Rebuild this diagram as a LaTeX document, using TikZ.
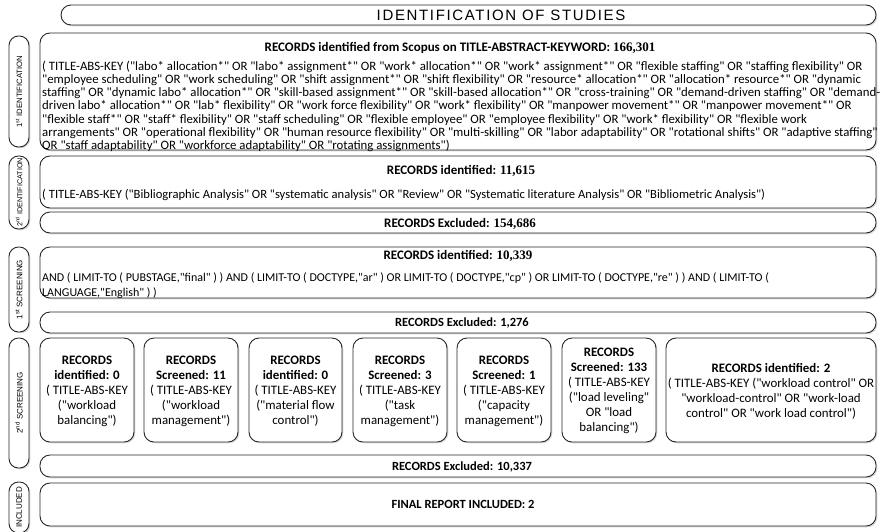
\documentclass[tikz,border=0pt]{standalone}
\usepackage{fontspec}
\setmainfont{Carlito}[Ligatures=TeXOff]
\newfontfamily\arialf{Liberation Sans}
\newfontfamily\titlef{Liberation Sans}[LetterSpace=11]
\newfontfamily\numf{Liberation Serif}
\usetikzlibrary{shadows}
\begin{document}
\begin{tikzpicture}[x=1pt,y=-1pt,
  box/.style={draw=black!85, line width=0.9pt, rounded corners=10pt, fill=white,
    inner sep=0pt, outer sep=0pt, anchor=north west,
    drop shadow={shadow xshift=1.3pt, shadow yshift=-1.3pt, opacity=0.3}},
  sidebox/.style={box, rounded corners=9.5pt, minimum width=20pt},
  sidetext/.style={rotate=90, inner sep=0pt, font=\arialf\fontsize{8}{9}\selectfont},
  hdr/.style={anchor=base, inner sep=0pt, font=\bfseries\fontsize{12.5}{14}\selectfont},
  hdrn/.style={hdr, font=\bfseries\fontsize{13}{14}\selectfont},
  body/.style={anchor=base west, inner sep=0pt},
  scr/.style={anchor=base, inner sep=0pt, font=\fontsize{12.9}{15}\selectfont},
]
\useasboundingbox (0,0) rectangle (885,531);
\fill[white] (0,0) rectangle (885,531);

% title
\node[box, minimum width=815pt, minimum height=20pt] (title) at (61,5) {};
\node[anchor=base, inner sep=0pt, font=\titlef\fontsize{15}{17}\selectfont] (titletext) at (501,20) {IDENTIFICATION OF STUDIES};

% side labels
\node[sidebox, minimum height=111pt] (l1) at (9,36) {};
\node[sidetext, font=\arialf\fontsize{7.7}{9}\selectfont] at (l1.center) {1\textsuperscript{st} IDENTIFICATION};
\node[sidebox, minimum height=73pt] (l2) at (9,156) {};
\node[sidetext, font=\arialf\fontsize{7.2}{8}\selectfont] at (l2.center) {2\textsuperscript{nd} IDENTIFICATION};
\node[sidebox, minimum height=85pt] (l3) at (9,247) {};
\node[sidetext] at (l3.center) {1\textsuperscript{st} SCREENING};
\node[sidebox, minimum height=130pt] (l4) at (9,338) {};
\node[sidetext] at (l4.center) {2\textsuperscript{nd} SCREENING};
\node[sidebox, minimum height=51pt] (l5) at (9,482) {};
\node[sidetext] at (l5.center) {INCLUDED};

% box 1
\node[box, minimum width=836pt, minimum height=117pt] (b1) at (40,33) {};
\node[hdrn] (b1h) at (460,51) {RECORDS identified from Scopus on TITLE-ABSTRACT-KEYWORD: {\numf 166,301}};
\node[body, font=\fontsize{12.8}{13.33}\selectfont] (b1t) at (42,70) {\parbox[t]{860pt}{\raggedright
( TITLE-ABS-KEY ("labo* allocation*" OR "labo* assignment*" OR "work* allocation*" OR "work* assignment*" OR "flexible staffing" OR "staffing flexibility" OR\\
"employee scheduling" OR "work scheduling" OR "shift assignment*" OR "shift flexibility" OR "resource* allocation*" OR "allocation* resource*" OR "dynamic\\
staffing" OR "dynamic labo* allocation*" OR "skill-based assignment*" OR "skill-based allocation*" OR "cross-training" OR "demand-driven staffing" OR "demand-\\
driven labo* allocation*" OR "lab* flexibility" OR "work force flexibility" OR "work* flexibility" OR "manpower movement*" OR "manpower movement*" OR\\
"flexible staff*" OR "staff* flexibility" OR "staff scheduling" OR "flexible employee" OR "employee flexibility" OR "work* flexibility" OR "flexible work\\
arrangements" OR "operational flexibility" OR "human resource flexibility" OR "multi-skilling" OR "labor adaptability" OR "rotational shifts" OR "adaptive staffing"\\
OR "staff adaptability" OR "workforce adaptability" OR "rotating assignments")}};

% box 2
\node[box, minimum width=836pt, minimum height=52pt] (b2) at (40,156) {};
\node[hdrn] (b2h) at (461,174) {RECORDS identified: {\numf 11,615}};
\node[body, font=\fontsize{12.6}{14}\selectfont] (b2t) at (42,198) {( TITLE-ABS-KEY ("Bibliographic Analysis" OR "systematic analysis" OR "Review" OR "Systematic literature Analysis" OR "Bibliometric Analysis")};

% box 3
\node[box, minimum width=836pt, minimum height=21pt] (b3) at (40,212) {};
\node[hdrn] (b3h) at (460,227) {RECORDS Excluded: {\numf 154,686}};

% box 4
\node[box, minimum width=836pt, minimum height=51pt] (b4) at (40,247) {};
\node[hdrn] (b4h) at (458,259) {RECORDS identified: {\numf 10,339}};
\node[body, font=\fontsize{12}{15}\selectfont] (b4t) at (42,281) {\parbox[t]{860pt}{\raggedright
AND ( LIMIT-TO ( PUBSTAGE,"final" ) ) AND ( LIMIT-TO ( DOCTYPE,"ar" ) OR LIMIT-TO ( DOCTYPE,"cp" ) OR LIMIT-TO ( DOCTYPE,"re" ) ) AND ( LIMIT-TO (\\
LANGUAGE,"English" ) )}};

% box 5
\node[box, minimum width=836pt, minimum height=21pt] (b5) at (40,312) {};
\node[hdr] (b5h) at (462,326) {RECORDS Excluded: 1,276};

% screening boxes
\node[box, minimum width=94pt, minimum height=104pt] (s1) at (40,338) {};
\node[scr] at (s1.center |- 0,364) {\parbox[t]{94pt}{\centering\textbf{RECORDS}\\ \textbf{identified: 0}\\ ( TITLE-ABS-KEY\\ ("workload\\ balancing")}};
\node[box, minimum width=94pt, minimum height=104pt] (s2) at (144,338) {};
\node[scr] at (s2.center |- 0,364) {\parbox[t]{94pt}{\centering\textbf{RECORDS}\\ \textbf{Screened: 11}\\ ( TITLE-ABS-KEY\\ ("workload\\ management")}};
\node[box, minimum width=93pt, minimum height=104pt] (s3) at (249,338) {};
\node[scr] at (s3.center |- 0,364) {\parbox[t]{93pt}{\centering\textbf{RECORDS}\\ \textbf{identified: 0}\\ ( TITLE-ABS-KEY\\ ("material flow\\ control")}};
\node[box, minimum width=94pt, minimum height=104pt] (s4) at (353,338) {};
\node[scr] at (s4.center |- 0,364) {\parbox[t]{94pt}{\centering\textbf{RECORDS}\\ \textbf{Screened: 3}\\ ( TITLE-ABS-KEY\\ ("task\\ management")}};
\node[box, minimum width=94pt, minimum height=104pt] (s5) at (457,338) {};
\node[scr] at (s5.center |- 0,364) {\parbox[t]{94pt}{\centering\textbf{RECORDS}\\ \textbf{Screened: 1}\\ ( TITLE-ABS-KEY\\ ("capacity\\ management")}};
\node[box, minimum width=94pt, minimum height=104pt] (s6) at (562,338) {};
\node[scr] at (s6.center |- 0,356) {\parbox[t]{94pt}{\centering\textbf{RECORDS}\\ \textbf{Screened: 133}\\ ( TITLE-ABS-KEY\\ ("load leveling"\\ OR "load\\ balancing")}};
\node[box, minimum width=210pt, minimum height=104pt] (s7) at (666,338) {};
\node[scr] at (s7.center |- 0,372) {\parbox[t]{210pt}{\centering\textbf{RECORDS identified: 2}\\ ( TITLE-ABS-KEY ("workload control" OR\\ "workload-control" OR "work-load\\ control" OR "work load control")}};

% box 6
\node[box, minimum width=836pt, minimum height=22pt] (b6) at (40,455) {};
\node[hdr] (b6h) at (462,470) {RECORDS Excluded: 10,337};

% box 7
\node[box, minimum width=836pt, minimum height=43pt] (b7) at (40,483) {};
\node[hdr] (b7h) at (463,508) {FINAL REPORT INCLUDED: 2};
\end{tikzpicture}
\end{document}
